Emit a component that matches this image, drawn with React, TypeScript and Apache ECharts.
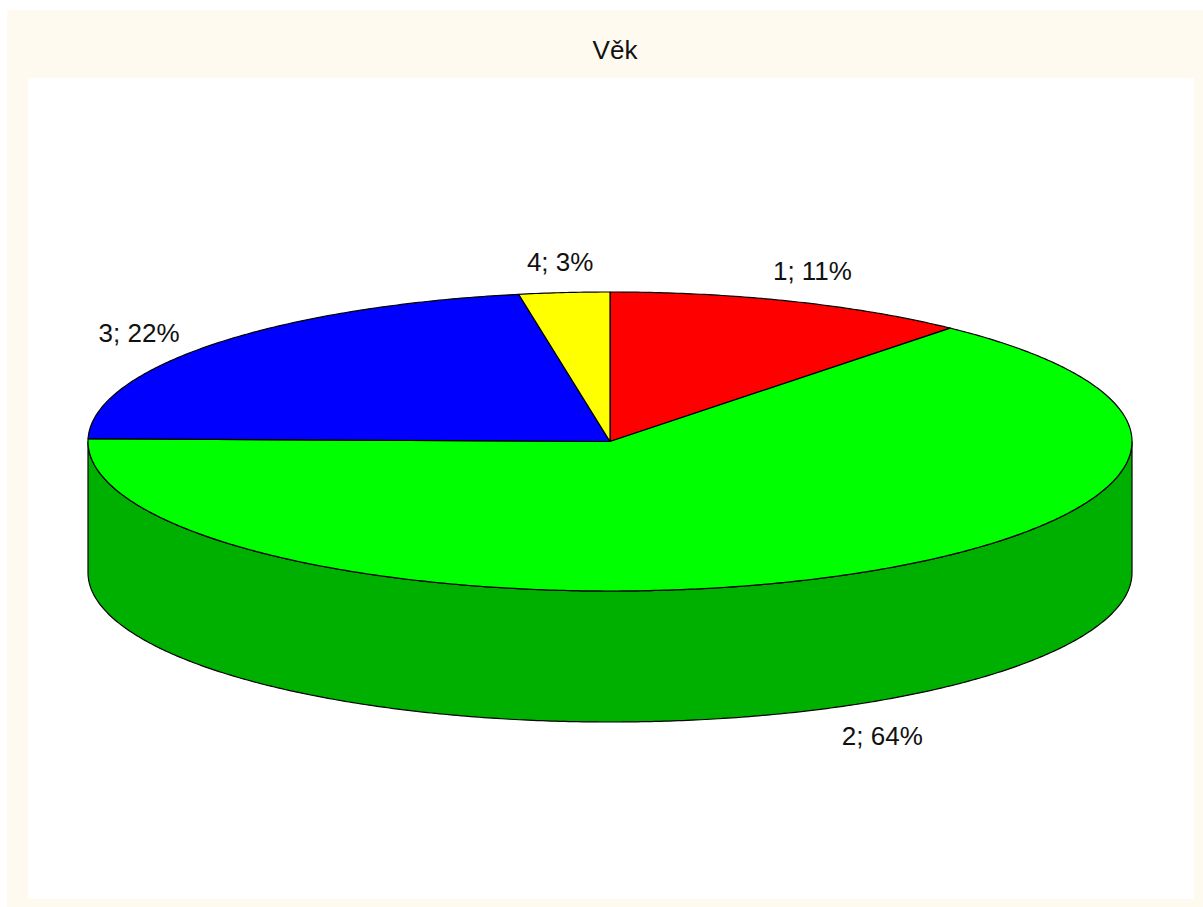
import React, { useEffect, useRef } from "react";
import * as echarts from "echarts";

const TITLE = "Věk";
const categories = ["1", "2", "3", "4"];
// Slice shares (printed rounded in the labels)
const sliceValues = [11.3, 64.0, 21.9, 2.8];
const labelPercents = [11, 64, 22, 3];
const topColors = ["#ff0000", "#00ff00", "#0000ff", "#ffff00"];
const wallColors = ["#b00000", "#00b000", "#0000b0", "#b0b000"];

// Layout of the pie (pixels)
const CX = 610;
const CY = 441.5;
const RX = 522;
const RY = 149.5;
const DEPTH = 131;
const FONT = "Liberation Sans";
const FONT_SIZE = 26;
const LABEL_OFFSETS = [
  [21, -30],
  [59, 27],
  [-74, -11],
  [-4, -31],
];

const total = sliceValues.reduce((a, b) => a + b, 0);
const startAngle = (i: number) =>
  (sliceValues.slice(0, i).reduce((a, b) => a + b, 0) / total) * 360;
const pt = (deg: number, dy = 0): number[] => {
  const r = (deg * Math.PI) / 180;
  return [CX + RX * Math.sin(r), CY - RY * Math.cos(r) + dy];
};
const arc = (a: number, b: number, dy = 0): number[][] => {
  const n = Math.max(2, Math.ceil((b - a) * 2));
  const out: number[][] = [];
  for (let k = 0; k <= n; k++) out.push(pt(a + ((b - a) * k) / n, dy));
  return out;
};

const renderWall = (params: any, api: any) => {
  const i = params.dataIndex;
  const a = Math.max(startAngle(i), 90);
  const b = Math.min(startAngle(i) + (api.value(0) / total) * 360, 270);
  if (b <= a) return { type: "group", children: [] };
  return {
    type: "polygon",
    shape: { points: [...arc(a, b), ...arc(a, b, DEPTH).reverse()] },
    style: { fill: wallColors[i], stroke: "#000", lineWidth: 1.2 },
  };
};

const renderTop = (params: any, api: any) => {
  const i = params.dataIndex;
  const a = startAngle(i);
  const b = a + (api.value(0) / total) * 360;
  return {
    type: "polygon",
    shape: { points: [[CX, CY], ...arc(a, b)] },
    style: { fill: topColors[i], stroke: "#000", lineWidth: 1.2, lineJoin: "round" },
  };
};

const renderLabel = (params: any, api: any) => {
  const i = params.dataIndex;
  const a = startAngle(i);
  const mid = a + (api.value(0) / total) * 180;
  const onWall = mid > 90 && mid < 270;
  const [x, y] = pt(mid, onWall ? DEPTH : 0);
  return {
    type: "text",
    style: {
      x: x + LABEL_OFFSETS[i][0],
      y: y + LABEL_OFFSETS[i][1],
      text: `${categories[i]}; ${labelPercents[i]}%`,
      fill: "#111",
      font: `${FONT_SIZE}px "${FONT}"`,
      align: "center",
      verticalAlign: "middle",
    },
  };
};

export default function App() {
  const ref = useRef<HTMLDivElement>(null);
  useEffect(() => {
    document.body.style.margin = "0";
    document.body.style.overflow = "hidden";
    const chart = echarts.init(ref.current!, undefined, { renderer: "svg" });
    const seriesData = sliceValues.map((v) => [v]);
    const base = {
      type: "custom",
      coordinateSystem: "none",
      data: seriesData,
      silent: true,
      clip: false,
      encode: { value: 0 },
    };
    chart.setOption({
      animation: false,
      backgroundColor: "#ffffff",
      title: {
        text: TITLE,
        left: 615,
        top: 50,
        textAlign: "center",
        textVerticalAlign: "middle",
        padding: 0,
        textStyle: { fontFamily: FONT, fontSize: FONT_SIZE, fontWeight: "normal", color: "#111" },
      },
      graphic: [
        { type: "rect", z: 0, shape: { x: 7, y: 10, width: 1196, height: 897 }, style: { fill: "#fffaf0" } },
        { type: "rect", z: 1, shape: { x: 28, y: 78, width: 1166, height: 821 }, style: { fill: "#ffffff" } },
      ],
      series: [
        { ...base, name: "wall", z: 2, renderItem: renderWall },
        { ...base, name: "top", z: 3, renderItem: renderTop },
        { ...base, name: "labels", z: 4, renderItem: renderLabel },
      ],
    });
    return () => chart.dispose();
  }, []);
  return <div ref={ref} style={{ position: "fixed", left: 0, top: 0, width: 1203, height: 907 }} />;
}
